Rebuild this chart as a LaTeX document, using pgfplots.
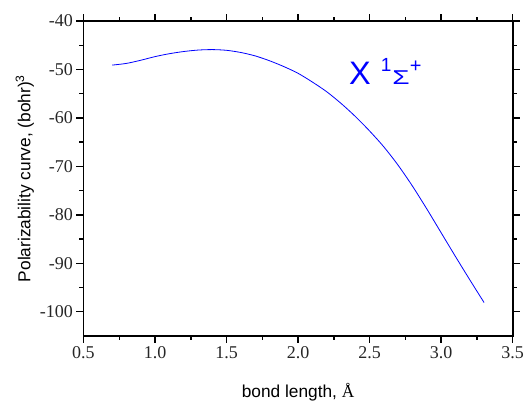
\documentclass[border=0pt]{standalone}
\usepackage{fontspec}
\setmainfont{Liberation Serif}
\setsansfont{Liberation Sans}
\usepackage{pgfplots}
\pgfplotsset{compat=1.18}

\definecolor{curveblue}{RGB}{0,0,255}

\begin{document}
\begin{tikzpicture}
\useasboundingbox (-83.5pt,-65pt) rectangle (443.5pt,336pt);
\begin{axis}[
  scale only axis,
  width=429.2pt, height=315pt,
  xmin=0.5, xmax=3.5, ymin=-105, ymax=-40,
  xtick={0.5,1.0,...,3.5},
  ytick={-100,-90,...,-40},
  minor x tick num=1, minor y tick num=1,
  xticklabel style={/pgf/number format/.cd, fixed, fixed zerofill, precision=1},
  /pgf/number format/assume math mode=true,
  ticklabel style={font=\fontsize{18}{18}\selectfont, color=black!85},
  tick align=outside,
  major tick length=7pt, minor tick length=4pt,
  axis line style={line width=1.6pt},
  every tick/.style={line width=1.4pt, black},
  xtick pos=both, ytick pos=both,
  xticklabel pos=lower, yticklabel pos=left,
  xlabel={bond length, {\rmfamily Å}},
  ylabel={Polarizability curve, (bohr)\textsuperscript{3}},
  label style={font=\sffamily\fontsize{17.3}{18}\selectfont},
  xlabel style={at={(axis description cs:0.5,0)}, anchor=base, yshift=-61.5pt},
  ylabel style={at={(axis description cs:0,0.5)}, anchor=base, yshift=53pt},
  clip=false,
]
\addplot[curveblue, line width=0.8pt, smooth] coordinates {
(0.7,-49.1) (0.8,-48.75) (0.9,-48.1) (1.0,-47.35) (1.1,-46.75)
(1.2,-46.3) (1.3,-46.0) (1.4,-45.9) (1.5,-46.05) (1.6,-46.5)
(1.7,-47.2) (1.8,-48.2) (1.9,-49.4) (2.0,-50.8) (2.1,-52.6)
(2.2,-54.6) (2.3,-57.0) (2.4,-59.7) (2.5,-62.7) (2.6,-66.0)
(2.7,-69.8) (2.8,-74.1) (2.9,-78.8) (3.0,-83.7) (3.1,-88.6)
(3.2,-93.4) (3.3,-98.1)
};
\node[anchor=base west, inner sep=0pt, text=curveblue, font=\sffamily]
  at (axis cs:2.356,-53.2)
  {\fontsize{32.5}{33}\selectfont X\hspace{10pt}\raisebox{13pt}{\fontsize{19}{19}\selectfont 1}\hspace{1pt}\fontsize{20}{20}\selectfont\scalebox{1.4}[1]{Σ}\raisebox{12pt}{\fontsize{20}{20}\selectfont +}};
\end{axis}
\end{tikzpicture}
\end{document}
